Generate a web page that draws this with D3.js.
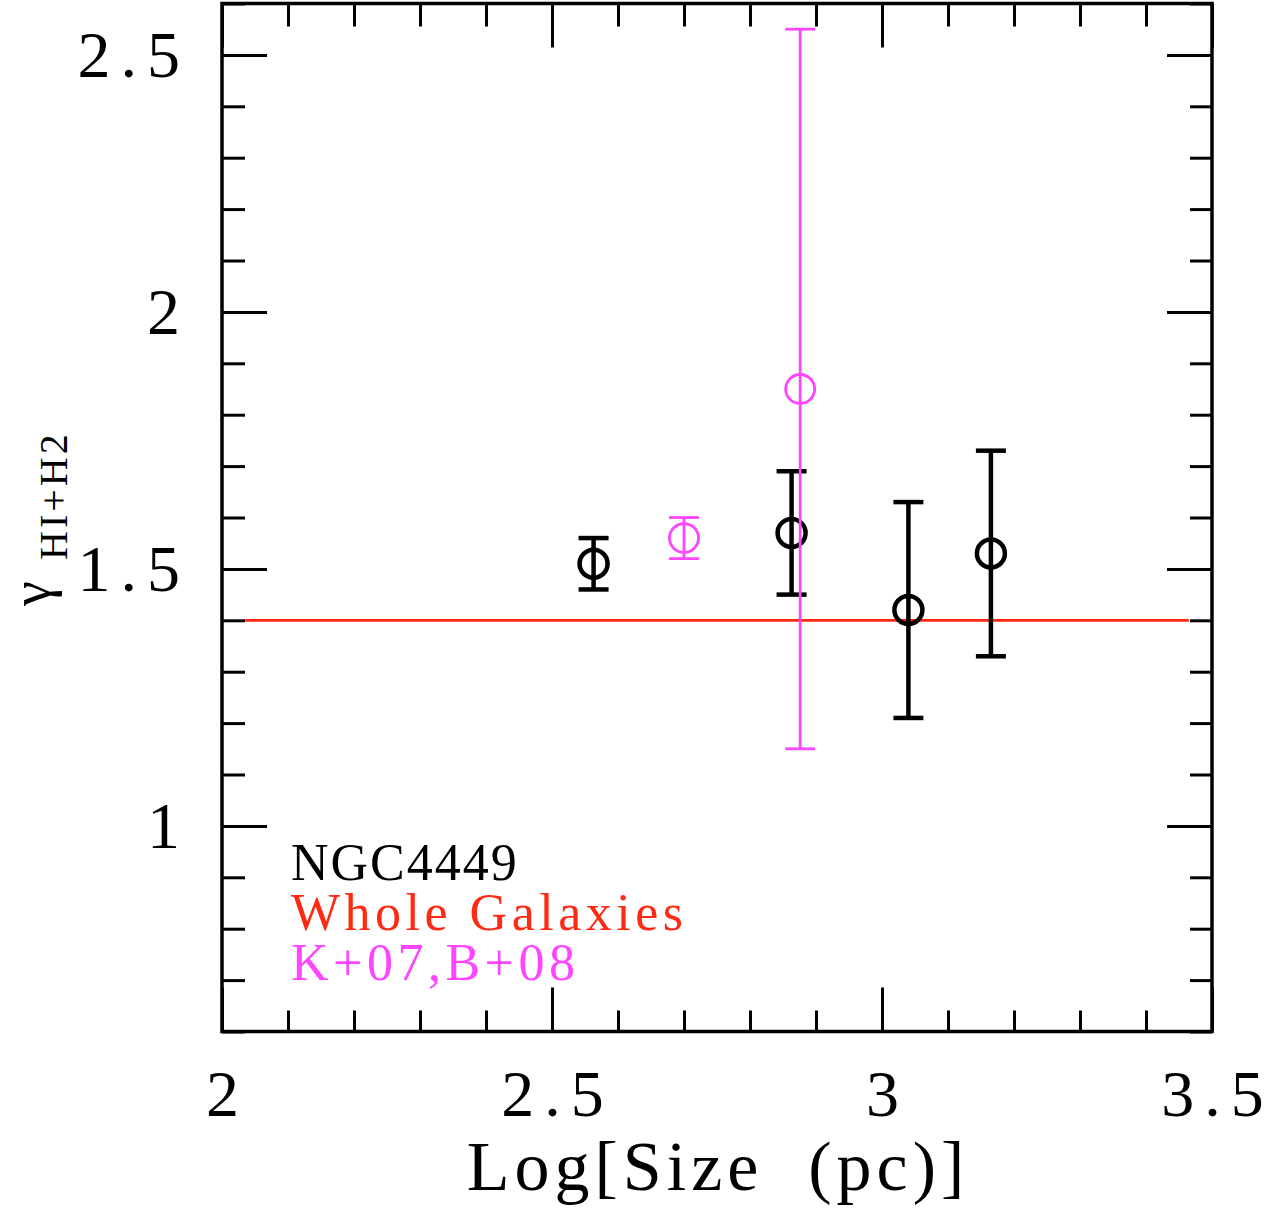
<!DOCTYPE html>
<html>
<head>
<meta charset="utf-8">
<script src="https://cdn.jsdelivr.net/npm/d3@7"></script>
<style>
  html, body { margin: 0; padding: 0; background: #fff; }
  svg { display: block; }
</style>
</head>
<body>
<svg id="chart" width="1279" height="1209"></svg>
<script>
// NGC4449 measurements: log size (pc), slope, 1-sigma error
const ngcLogSize = [2.563, 2.863, 3.040, 3.165];
const ngcGamma   = [1.51, 1.57, 1.42, 1.53];
const ngcErr     = [0.05, 0.12, 0.21, 0.20];

// K+07, B+08 comparison points
const kbLogSize = [2.700, 2.876];
const kbGamma   = [1.56, 1.85];
const kbErr     = [0.04, 0.70];

// Whole-galaxy value, drawn as a horizontal reference line
const wholeGamma = 1.40;
const wholeSpan  = [2.035, 3.465];

// Axis ticks
const xMajorTicks = [2, 2.5, 3, 3.5];
const yMajorTicks = [1, 1.5, 2, 2.5];
const xDomain = [2, 3.5];
const yDomain = [0.6, 2.6];

// Legend labels and colours
const legendLabels = ["NGC4449", "Whole Galaxies", "K+07,B+08"];
const legendColors = ["#000000", "#ff2a14", "#ff45ff"];

const RED = "#ff2a14", MAGENTA = "#ff45ff";
const svg = d3.select("#chart");
const L = 222, R = 1212, T = 3.5, B = 1031.5;
const x = d3.scaleLinear(xDomain, [L, R]);
const y = d3.scaleLinear(yDomain, [B, T]);
const serif = "'Liberation Serif', 'Times New Roman', serif";

const xMinor = x.ticks(15).filter(v => !xMajorTicks.some(m => Math.abs(m - v) < 1e-9));
const yMinor = y.ticks(20).filter(v => !yMajorTicks.some(m => Math.abs(m - v) < 1e-9));

function styleAxis(g) {
  g.select(".domain").remove();
  g.selectAll(".tick line").attr("stroke", "#000").attr("stroke-width", 3);
  g.selectAll(".tick text")
    .attr("font-family", serif).attr("font-size", 66)
    .attr("letter-spacing", "10px").attr("fill", "#000");
}

// bottom axis: major ticks with labels, minor ticks without
svg.append("g").attr("transform", `translate(0,${B})`)
  .call(d3.axisBottom(x).tickValues(xMajorTicks).tickSize(-44).tickPadding(38)
        .tickFormat(d3.format("")))
  .call(styleAxis)
  .call(g => g.selectAll(".tick text").attr("dx", "5px"));
svg.append("g").attr("transform", `translate(0,${B})`)
  .call(d3.axisBottom(x).tickValues(xMinor).tickSize(-21).tickFormat(""))
  .call(styleAxis);

// top axis
svg.append("g").attr("transform", `translate(0,${T})`)
  .call(d3.axisTop(x).tickValues(xMajorTicks).tickSize(-44).tickFormat(""))
  .call(styleAxis);
svg.append("g").attr("transform", `translate(0,${T})`)
  .call(d3.axisTop(x).tickValues(xMinor).tickSize(-23).tickFormat(""))
  .call(styleAxis);

// left axis
svg.append("g").attr("transform", `translate(${L},0)`)
  .call(d3.axisLeft(y).tickValues(yMajorTicks).tickSize(-45).tickPadding(32)
        .tickFormat(d3.format("")))
  .call(styleAxis);
svg.append("g").attr("transform", `translate(${L},0)`)
  .call(d3.axisLeft(y).tickValues(yMinor).tickSize(-23).tickFormat(""))
  .call(styleAxis);

// right axis
svg.append("g").attr("transform", `translate(${R},0)`)
  .call(d3.axisRight(y).tickValues(yMajorTicks).tickSize(-45).tickFormat(""))
  .call(styleAxis);
svg.append("g").attr("transform", `translate(${R},0)`)
  .call(d3.axisRight(y).tickValues(yMinor).tickSize(-22).tickFormat(""))
  .call(styleAxis);

// frame
svg.append("rect")
  .attr("x", L).attr("y", T).attr("width", R - L).attr("height", B - T)
  .attr("fill", "none").attr("stroke", "#000").attr("stroke-width", 3.5);

// whole-galaxy reference line
svg.append("line")
  .attr("x1", x(wholeSpan[0])).attr("x2", x(wholeSpan[1]))
  .attr("y1", y(wholeGamma)).attr("y2", y(wholeGamma))
  .attr("stroke", RED).attr("stroke-width", 2.8);

function drawSeries(xs, ys, es, color, lw, r, capHalf) {
  const g = svg.append("g").attr("stroke", color).attr("fill", "none");
  const rows = xs.map((v, i) => ({ x: v, y: ys[i], e: es[i] }));
  const pts = g.selectAll("g.pt").data(rows).join("g").attr("class", "pt");
  pts.append("line")
    .attr("x1", d => x(d.x)).attr("x2", d => x(d.x))
    .attr("y1", d => y(d.y + d.e)).attr("y2", d => y(d.y - d.e))
    .attr("stroke-width", lw);
  pts.append("line")
    .attr("x1", d => x(d.x) - capHalf).attr("x2", d => x(d.x) + capHalf)
    .attr("y1", d => y(d.y + d.e)).attr("y2", d => y(d.y + d.e))
    .attr("stroke-width", lw);
  pts.append("line")
    .attr("x1", d => x(d.x) - capHalf).attr("x2", d => x(d.x) + capHalf)
    .attr("y1", d => y(d.y - d.e)).attr("y2", d => y(d.y - d.e))
    .attr("stroke-width", lw);
  pts.append("circle")
    .attr("cx", d => x(d.x)).attr("cy", d => y(d.y)).attr("r", r)
    .attr("stroke-width", lw);
}

drawSeries(ngcLogSize, ngcGamma, ngcErr, "#000", 4.5, 14, 15);
drawSeries(kbLogSize, kbGamma, kbErr, MAGENTA, 2.8, 14.5, 15);

// legend, one line per entry
const legendSpacing = [2, 4.5, 4.5];
svg.append("g").selectAll("text").data(legendLabels).join("text")
  .attr("x", 291).attr("y", (d, i) => 880 + i * 50)
  .attr("font-family", serif).attr("font-size", 52)
  .attr("letter-spacing", (d, i) => legendSpacing[i] + "px")
  .attr("fill", (d, i) => legendColors[i])
  .text(d => d);

// x axis title
svg.append("text")
  .attr("x", 718).attr("y", 1190).attr("text-anchor", "middle")
  .attr("font-family", serif).attr("font-size", 70)
  .attr("letter-spacing", "5px")
  .style("white-space", "pre")
  .text("Log[Size  (pc)]");

// y axis title: gamma with HI+H2 subscript
svg.append("text")
  .attr("transform", "translate(50,606) rotate(-90)")
  .attr("font-family", serif).attr("font-size", 56)
  .text("γ");
svg.append("text")
  .attr("transform", "translate(67,560) rotate(-90)")
  .attr("font-family", serif).attr("font-size", 40)
  .attr("letter-spacing", "3px")
  .text("HI+H2");
</script>
</body>
</html>
